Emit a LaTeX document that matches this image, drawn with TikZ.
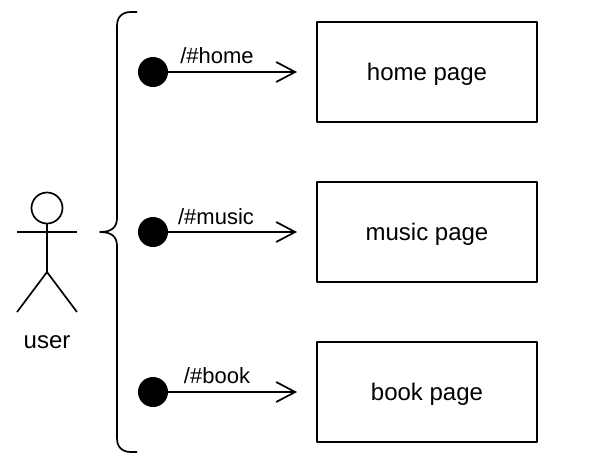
\documentclass[tikz,border=0pt]{standalone}
\usepackage{fontspec}
\setmainfont{Liberation Sans}
\usetikzlibrary{arrows.meta}
\tikzset{
	pagebox/.style={draw, line width=1.7pt, minimum width=220pt, minimum height=100pt, inner sep=0pt, text depth=0pt, font=\fontsize{24}{26}\selectfont},
	startdot/.style={circle, fill=black, draw=black, line width=1pt, minimum size=29pt, inner sep=0pt},
	routelabel/.style={font=\fontsize{22}{24}\selectfont, inner sep=0pt}
}
\begin{document}
\begin{tikzpicture}[x=1pt, y=-1pt, line width=1.7pt, line join=round, >={Straight Barb[length=19pt, width=20pt, line width=1.7pt]}]
	\useasboundingbox (0,0) rectangle (596,472);
	% user
	\node[circle, draw, line width=1.7pt, minimum size=31pt, inner sep=0pt] (head) at (47,208) {};
	\coordinate (hip) at (47,272);
	\draw (head.south) -- (hip);
	\draw (17,232) -- (77,232);
	\draw (17,312) -- (hip) -- (77,312);
	\node[font=\fontsize{24}{26}\selectfont, inner sep=0pt] (user) at (47,342) {user};
	% brace
	\draw (137,12) -- (131,12) .. controls (122,12) and (117,17) .. (117,26) -- (117,218)
		.. controls (117,227) and (112,232) .. (100,232)
		.. controls (112,232) and (117,237) .. (117,246) -- (117,438)
		.. controls (117,447) and (122,452) .. (131,452) -- (137,452);
	% routes
	\foreach \name/\y/\lx/\ly in {home/72/217/55.5, music/232/216/216.5, book/392/217/375.5}{
		\node[pagebox] (\name page) at (427,\y) {\name\ page};
		\node[startdot] (\name dot) at (153,\y) {};
		\coordinate (\name end) at (297,\y);
		\draw[->] (\name dot) -- (\name end);
		\node[routelabel] (\name label) at (\lx,\ly) {/\#\name};
	}
\end{tikzpicture}
\end{document}
